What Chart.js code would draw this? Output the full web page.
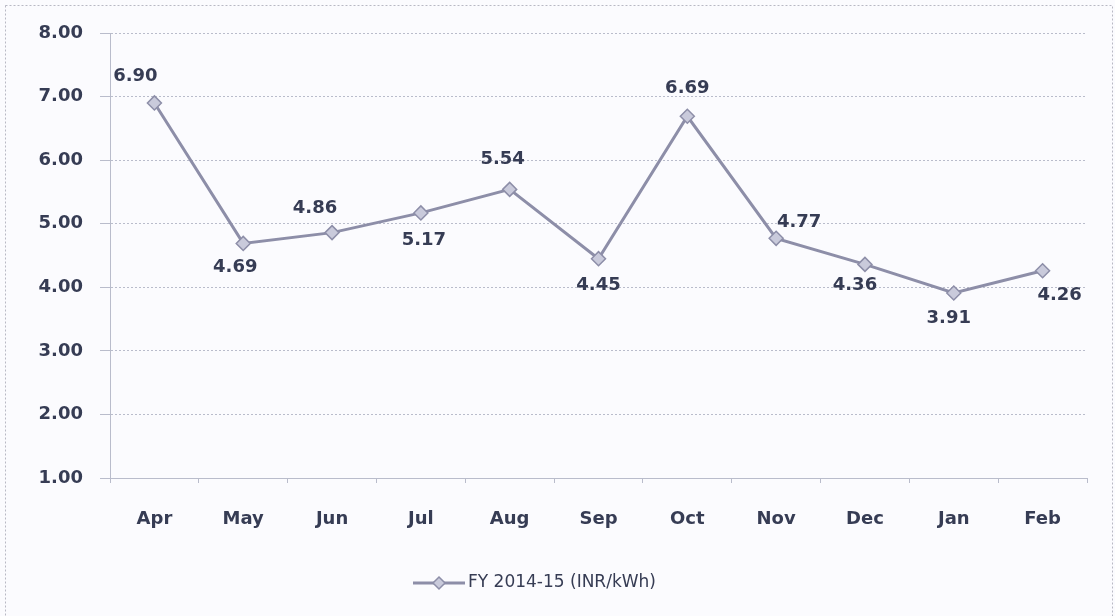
<!DOCTYPE html>
<html>
<head>
<meta charset="utf-8">
<script src="https://cdn.jsdelivr.net/npm/chart.js@4.4.1/dist/chart.umd.min.js"></script>
<style>
  html, body { margin: 0; padding: 0; background: #fbfbfe; }
  canvas { display: block; }
</style>
</head>
<body>
<canvas id="c" width="1115" height="616"></canvas>
<script>
// ---- data ----
const months = ['Apr','May','Jun','Jul','Aug','Sep','Oct','Nov','Dec','Jan','Feb'];
const tariff = [6.90, 4.69, 4.86, 5.17, 5.54, 4.45, 6.69, 4.77, 4.36, 3.91, 4.26];
const seriesName = 'FY 2014-15 (INR/kWh)';
const yTicks = [1, 2, 3, 4, 5, 6, 7, 8];

// ---- label placement (layout only) ----
const labelDX = [-19, -8, -17, 3, -7, 0, 0, 23, -10, -5, 17];
const labelDY = [-27, 24, -24, 27, -30, 27, -28, -16, 21, 25, 25];

const TEXT = '#363c54';
const LINE = '#8d8ea8';
const GRID = '#b9bccb';
const FONT = 'DejaVu Sans';

const bgPlugin = {
  id: 'bg',
  beforeDraw(chart) {
    const ctx = chart.ctx;
    ctx.save();
    ctx.fillStyle = '#fbfbfe';
    ctx.fillRect(0, 0, chart.width, chart.height);
    ctx.strokeStyle = '#b8b9c4';
    ctx.lineWidth = 1;
    ctx.setLineDash([2, 2]);
    ctx.strokeRect(5.5, 5.5, chart.width - 8, chart.height + 20);
    ctx.restore();
  }
};

const labelPlugin = {
  id: 'pointLabels',
  afterDatasetsDraw(chart) {
    const ctx = chart.ctx;
    const meta = chart.getDatasetMeta(0);
    ctx.save();
    ctx.font = 'bold 18px "' + FONT + '"';
    ctx.fillStyle = TEXT;
    ctx.textAlign = 'center';
    ctx.textBaseline = 'middle';
    meta.data.forEach((pt, i) => {
      ctx.fillText(tariff[i].toFixed(2), pt.x + labelDX[i], pt.y + labelDY[i]);
    });
    ctx.restore();
  }
};

const legendPlugin = {
  id: 'customLegend',
  afterDraw(chart) {
    const ctx = chart.ctx;
    ctx.save();
    const y = 583;
    const x0 = 413, x1 = 465;
    ctx.strokeStyle = LINE;
    ctx.lineWidth = 3;
    ctx.beginPath();
    ctx.moveTo(x0, y); ctx.lineTo(x1, y);
    ctx.stroke();
    const cx = (x0 + x1) / 2, r = 6;
    ctx.beginPath();
    ctx.moveTo(cx, y - r); ctx.lineTo(cx + r, y); ctx.lineTo(cx, y + r); ctx.lineTo(cx - r, y); ctx.closePath();
    ctx.fillStyle = '#c9cadb';
    ctx.fill();
    ctx.lineWidth = 1.5;
    ctx.stroke();
    ctx.font = '17px "' + FONT + '"';
    ctx.fillStyle = TEXT;
    ctx.textAlign = 'left';
    ctx.textBaseline = 'middle';
    ctx.fillText(seriesName, x1 + 3, y);
    ctx.restore();
  }
};

new Chart(document.getElementById('c'), {
  type: 'line',
  data: {
    labels: months,
    datasets: [{
      label: seriesName,
      data: tariff,
      borderColor: LINE,
      borderWidth: 3,
      backgroundColor: '#c9cadb',
      pointStyle: 'rectRot',
      pointRadius: 7,
      pointBorderWidth: 1.5,
      pointBorderColor: LINE,
      pointBackgroundColor: '#c9cadb',
      tension: 0,
      fill: false
    }]
  },
  options: {
    responsive: false,
    devicePixelRatio: 1,
    animation: false,
    layout: { padding: { top: 33, right: 28, left: 0, bottom: 0 } },
    plugins: {
      legend: { display: false },
      tooltip: { enabled: false }
    },
    scales: {
      x: {
        offset: true,
        grid: { display: true, offset: true, drawOnChartArea: false, tickLength: 5, color: GRID },
        border: { display: true, color: GRID, dash: [3, 2] },
        ticks: { color: TEXT, font: { family: FONT, size: 18, weight: 'bold' }, padding: 26, maxRotation: 0 },
        afterFit(scale) { scale.height = 138; }
      },
      y: {
        min: 1, max: 8,
        afterBuildTicks(scale) { scale.ticks = yTicks.map(v => ({ value: v })); },
        grid: { color: GRID, tickLength: 10, lineWidth: 1 },
        border: { display: true, color: GRID, dash: [2, 2] },
        ticks: {
          color: TEXT,
          font: { family: FONT, size: 18, weight: 'bold' },
          padding: 17,
          callback: v => Number(v).toFixed(2)
        },
        afterFit(scale) { scale.width = 110; }
      }
    }
  },
  plugins: [bgPlugin, labelPlugin, legendPlugin]
});
</script>
</body>
</html>
